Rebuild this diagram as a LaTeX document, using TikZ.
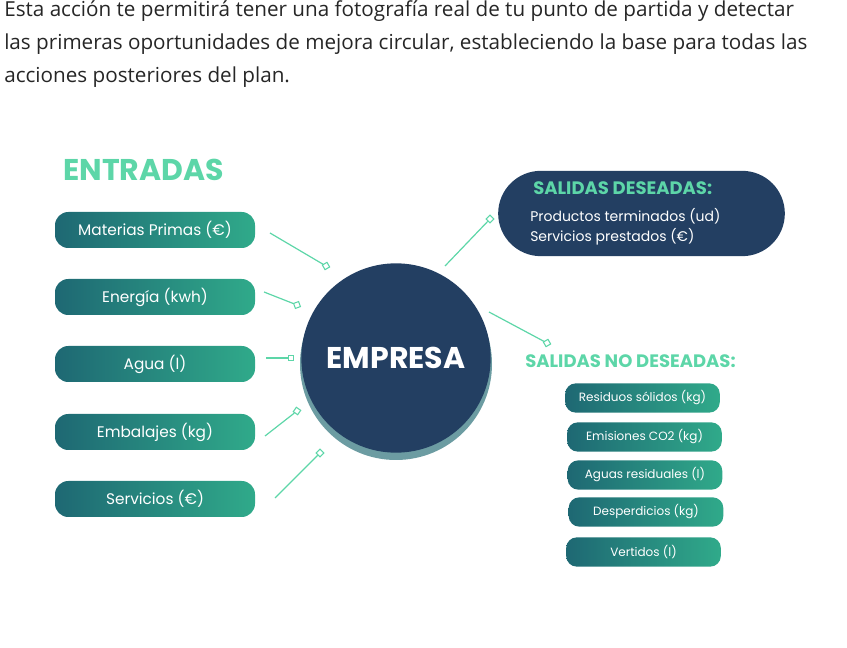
\documentclass[tikz,border=0pt]{standalone}
\usepackage{fontspec}
\setmainfont{Poppins}
\newfontfamily\para{Open Sans}
\begin{document}
\begin{tikzpicture}[x=0.75pt,y=-0.75pt,
  every node/.style={inner sep=0pt},
  inpill/.style={rounded corners=10pt,minimum width=150pt,minimum height=27pt,left color=teal1,right color=teal2,text=white,font=\fontsize{11.5}{13}\selectfont},
  outpill/.style={rounded corners=8pt,minimum width=116pt,minimum height=22pt,left color=teal1,right color=teal2,text=white,font=\fontsize{9}{11}\selectfont},
  conn/.style={draw=lgreen,line width=0.9pt},
  sq/.style={draw=lgreen,fill=white,line width=0.8pt,minimum size=4pt,rotate=#1},
  sq/.default=0,
  ttl/.style={text=lgreen,font=\bfseries\fontsize{13.5}{15}\selectfont}]
\definecolor{teal1}{HTML}{1E6873}
\definecolor{teal2}{HTML}{30AA8A}
\definecolor{navy}{HTML}{233F62}
\definecolor{lgreen}{HTML}{5DD6A8}
\definecolor{shadow}{HTML}{6C9CA2}
\useasboundingbox (0,0) rectangle (847,648);
\node[anchor=north west,align=left,font=\para\fontsize{15.5}{24.8}\selectfont,text=black!85] (p) at (4,0)
{Esta acción te permitirá tener una fotografía real de tu punto de partida y detectar\\
las primeras oportunidades de mejora circular, estableciendo la base para todas las\\
acciones posteriores del plan.};
\node[anchor=west,text=lgreen,font=\bfseries\fontsize{22.5}{25}\selectfont] (ent) at (63,170) {ENTRADAS};
\node[inpill] (i1) at (155,230) {Materias Primas (€)};
\node[inpill] (i2) at (155,297) {Energía (kwh)};
\node[inpill] (i3) at (155,364) {Agua (l)};
\node[inpill] (i4) at (155,432) {Embalajes (kg)};
\node[inpill] (i5) at (155,499) {Servicios (€)};
\fill[shadow] (396,364) circle (72pt);
\node[circle,fill=navy,minimum size=142pt,text=white,font=\bfseries\fontsize{22.5}{25}\selectfont] (emp) at (396,358) {EMPRESA};
\coordinate (a1) at (270,233); \node[sq=30] (b1) at (326,266) {};
\coordinate (a2) at (264,292); \node[sq=20] (b2) at (297,305) {};
\coordinate (a3) at (266,358); \node[sq] (b3) at (291,358) {};
\coordinate (a4) at (265,436); \node[sq=-35] (b4) at (297,411) {};
\coordinate (a5) at (275,498); \node[sq=-45] (b5) at (320,453) {};
\coordinate (a6) at (445,266); \node[sq=-45] (b6) at (490,219) {};
\coordinate (a7) at (489,312); \node[sq=30] (b7) at (547,343) {};
\foreach \i in {1,...,7} \draw[conn] (a\i) -- (b\i);
\node[rounded corners=32pt,fill=navy,minimum width=215pt,minimum height=64pt] (sd) at (641.5,213.5) {};
\node[ttl,anchor=west] (sdt) at (533,188) {SALIDAS DESEADAS:};
\node[anchor=north west,align=left,text=white,font=\fontsize{10.5}{15}\selectfont] (sdi) at (530,208) {Productos terminados (ud)\\Servicios prestados (€)};
\node[ttl,anchor=west] (snd) at (525,361) {SALIDAS NO DESEADAS:};
\node[outpill] (o1) at (642.5,398) {Residuos sólidos (kg)};
\node[outpill] (o2) at (644.5,437) {Emisiones CO2 (kg)};
\node[outpill] (o3) at (645,475) {Aguas residuales (l)};
\node[outpill] (o4) at (646,512) {Desperdicios (kg)};
\node[outpill] (o5) at (643.5,552) {Vertidos (l)};
\end{tikzpicture}
\end{document}
